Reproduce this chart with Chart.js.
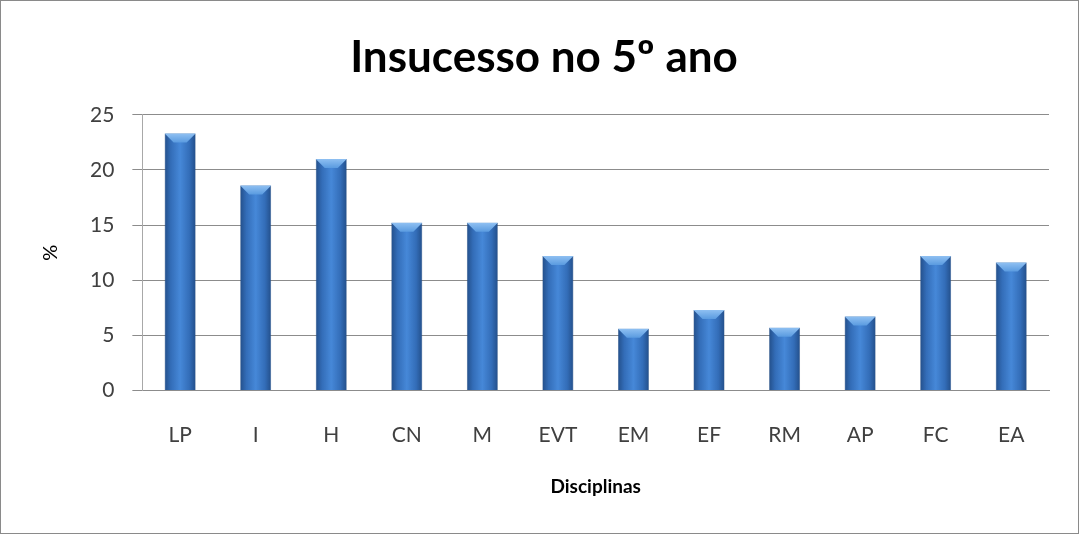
<!DOCTYPE html>
<html>
<head>
<meta charset="utf-8">
<script src="https://cdn.jsdelivr.net/npm/chart.js@4.4.0/dist/chart.umd.min.js"></script>
<style>
  html, body { margin: 0; padding: 0; background: #fff; }
  #wrap { width: 1079px; height: 534px; box-sizing: border-box; border: 1px solid #8a8a8a; position: relative; }
  canvas { display: block; }
</style>
</head>
<body>
<div id="wrap"><canvas id="chart" width="1077" height="532"></canvas></div>
<script>
const disciplinas = ['LP', 'I', 'H', 'CN', 'M', 'EVT', 'EM', 'EF', 'RM', 'AP', 'FC', 'EA'];
const insucesso = [23.3, 18.6, 21.0, 15.2, 15.2, 12.2, 5.6, 7.3, 5.7, 6.7, 12.2, 11.6];
const yTicks = [0, 5, 10, 15, 20, 25];

const FONT = 'Lato, "Open Sans", sans-serif';
const BAR_PCT = 0.41;

// horizontal gradient per bar, dark at the edges and lighter in the middle
function barFill(ctx) {
  const chart = ctx.chart;
  const xs = chart.scales.x;
  if (!xs || !chart.chartArea) return '#3a74c0';
  const cx = xs.getPixelForValue(ctx.dataIndex);
  const w = (chart.chartArea.right - chart.chartArea.left) / disciplinas.length * BAR_PCT;
  const g = chart.ctx.createLinearGradient(cx - w / 2, 0, cx + w / 2, 0);
  g.addColorStop(0, '#234f8a');
  g.addColorStop(0.2, '#336db8');
  g.addColorStop(0.5, '#4688d8');
  g.addColorStop(0.8, '#336db8');
  g.addColorStop(1, '#234f8a');
  return g;
}

// light bevel on top of each bar
const bevel = {
  id: 'bevel',
  afterDatasetsDraw(chart) {
    const c = chart.ctx;
    chart.getDatasetMeta(0).data.forEach(bar => {
      const l = bar.x - bar.width / 2, r = bar.x + bar.width / 2, t = bar.y;
      const h = 9;
      c.save();
      c.beginPath();
      c.moveTo(l, t);
      c.lineTo(r, t);
      c.lineTo(r - h, t + h);
      c.lineTo(l + h, t + h);
      c.closePath();
      const g = c.createLinearGradient(0, t, 0, t + h);
      g.addColorStop(0, '#8fc0f2');
      g.addColorStop(1, '#5a9be0');
      c.fillStyle = g;
      c.fill();
      c.restore();
    });
  }
};

new Chart(document.getElementById('chart'), {
  type: 'bar',
  data: {
    labels: disciplinas,
    datasets: [{
      data: insucesso,
      backgroundColor: barFill,
      borderColor: '#1d4478',
      borderWidth: 0.5,
      barPercentage: BAR_PCT,
      categoryPercentage: 1
    }]
  },
  options: {
    responsive: false,
    animation: false,
    layout: { padding: { left: 38, right: 29, top: 30, bottom: 35 } },
    plugins: {
      legend: { display: false },
      tooltip: { enabled: false },
      title: {
        display: true,
        text: 'Insucesso no 5º ano',
        color: '#000',
        font: { family: FONT, size: 44, weight: 'bold' },
        padding: { top: 0, bottom: 31 }
      }
    },
    scales: {
      x: {
        grid: { display: false },
        border: { display: true, color: '#8c8c8c' },
        ticks: { color: '#404040', font: { family: FONT, size: 21 }, padding: 24 },
        title: {
          display: true,
          text: 'Disciplinas',
          color: '#000',
          font: { family: FONT, size: 19, weight: 'bold' },
          padding: { top: 3.5, bottom: 0 }
        }
      },
      y: {
        min: 0,
        max: 25,
        afterBuildTicks: axis => { axis.ticks = yTicks.map(v => ({ value: v })); },
        grid: { color: '#8c8c8c', lineWidth: 1, tickLength: 10, drawTicks: true },
        border: { display: true, color: '#a8a8a8' },
        ticks: { color: '#404040', font: { family: FONT, size: 21 }, padding: 18 },
        title: {
          display: true,
          text: '%',
          color: '#000',
          font: { family: FONT, size: 20 },
          padding: { top: 0, bottom: 9 }
        }
      }
    }
  },
  plugins: [bevel]
});
</script>
</body>
</html>
